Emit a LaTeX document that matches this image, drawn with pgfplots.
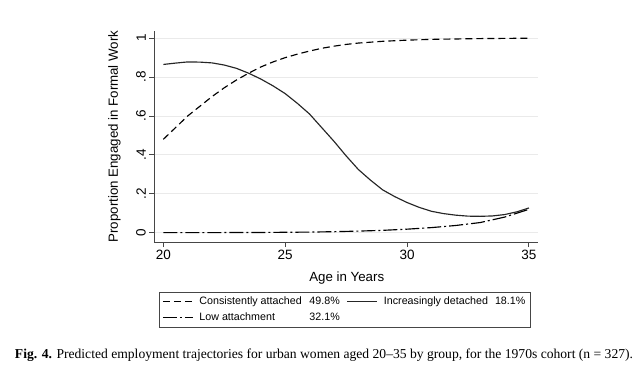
\documentclass[border=0pt]{standalone}
\usepackage{fontspec}
\setmainfont{Liberation Sans}
\newfontfamily\capfont{Liberation Serif}
\usepackage{pgfplots}
\pgfplotsset{compat=1.18}
\definecolor{gridc}{RGB}{234,234,234}
\definecolor{axc}{RGB}{70,70,70}
\begin{document}
\begin{tikzpicture}[x=1pt,y=1pt]
\useasboundingbox (0,0) rectangle (640,376);
\begin{axis}[
  at={(154.3pt,134pt)}, anchor=south west,
  scale only axis, width=383.4pt, height=211pt,
  xmin=19.63, xmax=35.36, ymin=-0.048, ymax=1.037,
  axis x line*=bottom, axis y line*=left,
  axis line style={axc, line width=0.9pt},
  every tick/.style={axc, line width=0.9pt},
  tick align=outside, major tick length=5pt,
  xtick={20,25,30,35},
  ytick={0,0.2,0.4,0.6,0.8,1},
  yticklabels={0,.2,.4,.6,.8,1},
  /pgf/number format/assume math mode=true,
  ymajorgrids, grid style={gridc, line width=0.8pt},
  tick label style={font=\fontsize{13.5}{13.5}\selectfont},
  yticklabel style={rotate=90, anchor=south},
  xlabel={Age in Years}, ylabel={Proportion Engaged in Formal Work},
  label style={font=\fontsize{13.3}{13.3}\selectfont},
  xlabel style={at={(axis description cs:0.502,-0.17)}, anchor=center},
  ylabel style={at={(axis description cs:-0.104,0.5)}, anchor=center},
  legend columns=2,
  legend style={at={(axis description cs:0.497,-0.237)}, anchor=north,
    font=\fontsize{10.7}{12}\selectfont, draw=axc, line width=0.8pt,
    inner xsep=3pt, inner ysep=2.5pt, row sep=3pt,
    /tikz/every odd column/.append style={column sep=4pt},
    /tikz/every even column/.append style={column sep=5pt}},
  legend cell align=left,
  legend image code/.code={\draw[#1] (0pt,0pt) -- (30pt,0pt);},
]
\addplot[black, line width=1.15pt, dash pattern=on 7pt off 4pt] coordinates {
(20,0.48) (20.5,0.54) (21,0.60) (21.5,0.65) (22,0.70) (22.5,0.745) (23,0.785)
(23.5,0.82) (24,0.852) (24.5,0.878) (25,0.90) (25.5,0.918) (26,0.934)
(26.5,0.948) (27,0.959) (27.5,0.968) (28,0.975) (29,0.984) (30,0.99)
(31,0.994) (32,0.996) (33,0.998) (34,0.999) (35,1.0)};
\addlegendentry{\makebox[110pt][l]{Consistently attached}49.8\%}
\addplot[black!85, line width=1.15pt] coordinates {
(20,0.865) (20.5,0.872) (21,0.878) (21.5,0.877) (22,0.873) (22.5,0.862)
(23,0.845) (23.5,0.82) (24,0.79) (24.5,0.755) (25,0.715) (25.5,0.665)
(26,0.61) (26.5,0.54) (27,0.47) (27.5,0.395) (28,0.325) (28.5,0.27)
(29,0.22) (29.5,0.185) (30,0.155) (30.5,0.13) (31,0.11) (31.5,0.098)
(32,0.09) (32.5,0.085) (33,0.084) (33.5,0.086) (34,0.093) (34.5,0.107) (35,0.127)};
\addlegendentry{Increasingly detached\hspace{7pt}18.1\%}
\addplot[black, line width=1.15pt, dash pattern=on 14pt off 3pt on 2pt off 3pt] coordinates {
(20,0.0) (21,0.0) (22,0.0) (23,0.001) (24,0.001) (25,0.002) (26,0.003)
(27,0.005) (28,0.008) (29,0.012) (30,0.018) (31,0.026) (32,0.037)
(33,0.052) (34,0.08) (35,0.12)};
\addlegendentry{\makebox[110pt][l]{Low attachment}32.1\%}
\end{axis}
\node[anchor=center] at (324,21) {\resizebox{618pt}{!}{\capfont\textbf{Fig. 4.} Predicted employment trajectories for urban women aged 20\textendash 35 by group, for the 1970s cohort (n = 327).}};
\end{tikzpicture}
\end{document}
